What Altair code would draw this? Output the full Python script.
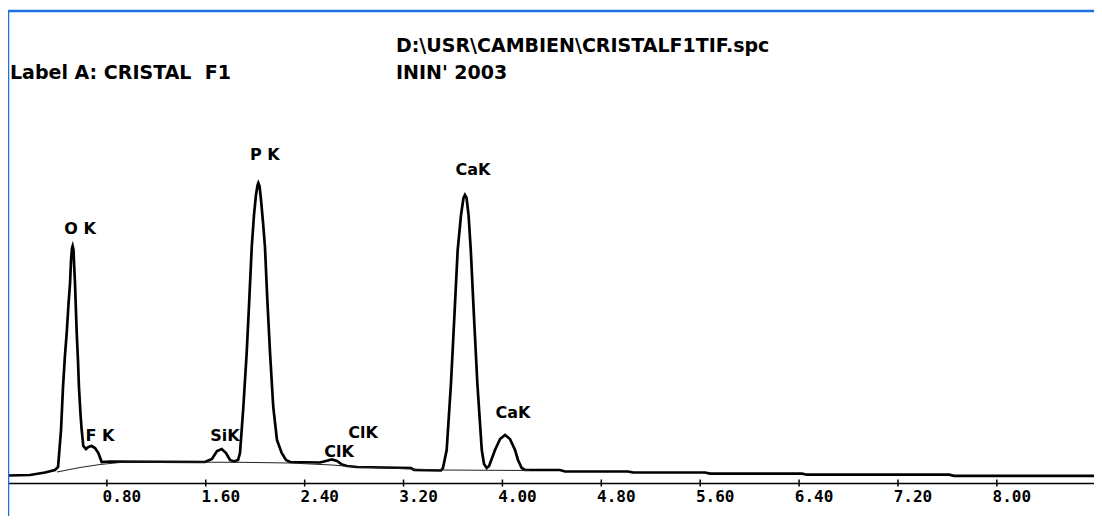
import altair as alt
import pandas as pd

# Spectrum trace (energy in keV, intensity in arbitrary counts)
energy = [0.000, 0.178, 0.299, 0.380, 0.405, 0.429, 0.445, 0.461, 0.475, 0.489, 0.502, 0.510,
          0.518, 0.523, 0.530, 0.534, 0.542, 0.556, 0.566, 0.574, 0.587, 0.596, 0.609, 0.631,
          0.650, 0.677, 0.704, 0.731, 0.758, 0.825, 1.594, 1.650, 1.691, 1.729, 1.764, 1.796,
          1.828, 1.861, 1.877, 1.904, 1.931, 1.952, 1.972, 1.990, 2.006, 2.019, 2.025, 2.035,
          2.047, 2.063, 2.079, 2.098, 2.120, 2.146, 2.176, 2.214, 2.249, 2.282, 2.524, 2.573,
          2.619, 2.662, 2.702, 2.743, 2.824, 3.260, 3.285, 3.503, 3.519, 3.549, 3.584, 3.611,
          3.638, 3.665, 3.685, 3.697, 3.710, 3.726, 3.744, 3.770, 3.797, 3.833, 3.851, 3.873,
          3.892, 3.916, 3.940, 3.981, 4.021, 4.061, 4.102, 4.126, 4.156, 4.183, 4.466, 4.506,
          5.016, 5.057, 5.639, 5.680, 6.424, 6.464, 7.613, 7.654, 8.786]
counts = [7.5, 8, 10.5, 13, 16, 53, 96, 128, 150, 178, 200, 223,
          235, 237, 233, 221, 200, 150, 123, 96, 68, 53, 37, 34,
          36, 37, 35, 30, 21, 21.5, 21, 24, 32, 34, 30, 23,
          21.5, 23, 30, 76, 130, 183, 236, 268, 288, 298, 300, 297,
          283, 261, 236, 183, 130, 76, 43, 30, 23, 21, 20.5, 22,
          23.5, 22, 18.5, 17, 16, 15, 13, 12.5, 15, 33, 100, 166,
          233, 268, 285, 288, 285, 268, 233, 166, 100, 33, 19, 15,
          17, 25, 33, 44, 48, 44, 33, 23, 15, 13, 13, 11.5,
          11.5, 10.5, 10.5, 9.4, 9.4, 8.3, 8.3, 7.2, 7.2]

# Fitted background (thin line)
bg_energy = [0.396, 0.583, 0.744, 0.947, 1.877, 2.282, 2.621, 2.824, 3.495, 4.223]
bg_counts = [11, 15.5, 18.5, 21, 20.7, 20, 18, 16, 13, 12.5]

# Peak labels
peak_labels = ["O K", "F K", "SiK", "P K", "ClK", "ClK", "CaK", "CaK"]
peak_energy = [0.583, 0.744, 1.756, 2.077, 2.872, 2.678, 3.762, 4.086]
peak_height = [254, 47, 47, 328, 50, 31.3, 313, 70]

tick_values = [0.8, 1.6, 2.4, 3.2, 4.0, 4.8, 5.6, 6.4, 7.2, 8.0]
tick_labels = ["0.80", "1.60", "2.40", "3.20", "4.00", "4.80", "5.60", "6.40", "7.20", "8.00"]

header_lines = ["D:\\USR\\CAMBIEN\\CRISTALF1TIF.spc", "Label A: CRISTAL\u00a0 F1", "ININ' 2003"]

W, H = 1086, 472
XDOM = [0, 8.786]
YDOM = [0, 472]
BLUE = "#1f6fe3"

spec = pd.DataFrame({"energy": energy, "counts": counts})
bg = pd.DataFrame({"energy": bg_energy, "counts": bg_counts})
lab = pd.DataFrame({"label": peak_labels, "energy": peak_energy, "counts": peak_height})
ticks = pd.DataFrame({"energy": tick_values, "base": [0] * len(tick_values), "label": tick_labels})
one = pd.DataFrame({"k": [0]})

xs = alt.Scale(domain=XDOM, nice=False, zero=False)
ys = alt.Scale(domain=YDOM, nice=False)

xaxis = alt.Axis(title=None, grid=False, ticks=False, labels=False,
                 domainColor="black", domainWidth=1.5)

line = alt.Chart(spec).mark_line(color="black", strokeWidth=2.7).encode(
    x=alt.X("energy:Q", scale=xs, axis=xaxis),
    y=alt.Y("counts:Q", scale=ys, axis=None),
)

bgline = alt.Chart(bg).mark_line(color="#222222", strokeWidth=1).encode(
    x=alt.X("energy:Q"),
    y=alt.Y("counts:Q"),
)

tickmarks = alt.Chart(ticks).mark_rule(color="black", strokeWidth=1.5).encode(
    x=alt.X("energy:Q"),
    y=alt.value(H - 3.5),
    y2=alt.value(H + 3.5),
)

ticklabels = alt.Chart(ticks).mark_text(font="DejaVu Sans Mono", fontWeight="bold", fontSize=16,
                                        color="black", align="center", baseline="middle",
                                        dx=15, dy=14).encode(
    x=alt.X("energy:Q"),
    y=alt.Y("base:Q"),
    text=alt.Text("label:N"),
)

labels = alt.Chart(lab).mark_text(font="DejaVu Sans", fontWeight="bold", fontSize=16,
                                  color="black", align="center", baseline="middle").encode(
    x=alt.X("energy:Q"),
    y=alt.Y("counts:Q"),
    text=alt.Text("label:N"),
)

hdr_font = dict(font="DejaVu Sans", fontWeight="bold", fontSize=19, color="black",
                align="left", baseline="middle")
t1 = alt.Chart(one).mark_text(text=header_lines[0], **hdr_font).encode(
    x=alt.value(388), y=alt.value(35))
t2 = alt.Chart(one).mark_text(text=header_lines[1], **hdr_font).encode(
    x=alt.value(2), y=alt.value(62))
t3 = alt.Chart(one).mark_text(text=header_lines[2], **hdr_font).encode(
    x=alt.value(388), y=alt.value(62))

top_border = alt.Chart(one).mark_rule(color=BLUE, strokeWidth=2.5).encode(
    x=alt.value(0), x2=alt.value(W), y=alt.value(0))
left_border = alt.Chart(one).mark_rule(color=BLUE, strokeWidth=2.5).encode(
    x=alt.value(0), y=alt.value(0), y2=alt.value(505))

chart = alt.layer(
    line, bgline, tickmarks, ticklabels, labels, t1, t2, t3, top_border, left_border
).properties(
    width=W, height=H,
    padding={"left": 0, "top": 3, "right": 0, "bottom": 33},
    autosize=alt.AutoSizeParams(type="none"),
).configure(background="white").configure_view(strokeWidth=0)

chart.save("out.html", embed_options={"renderer": "svg", "actions": False})
